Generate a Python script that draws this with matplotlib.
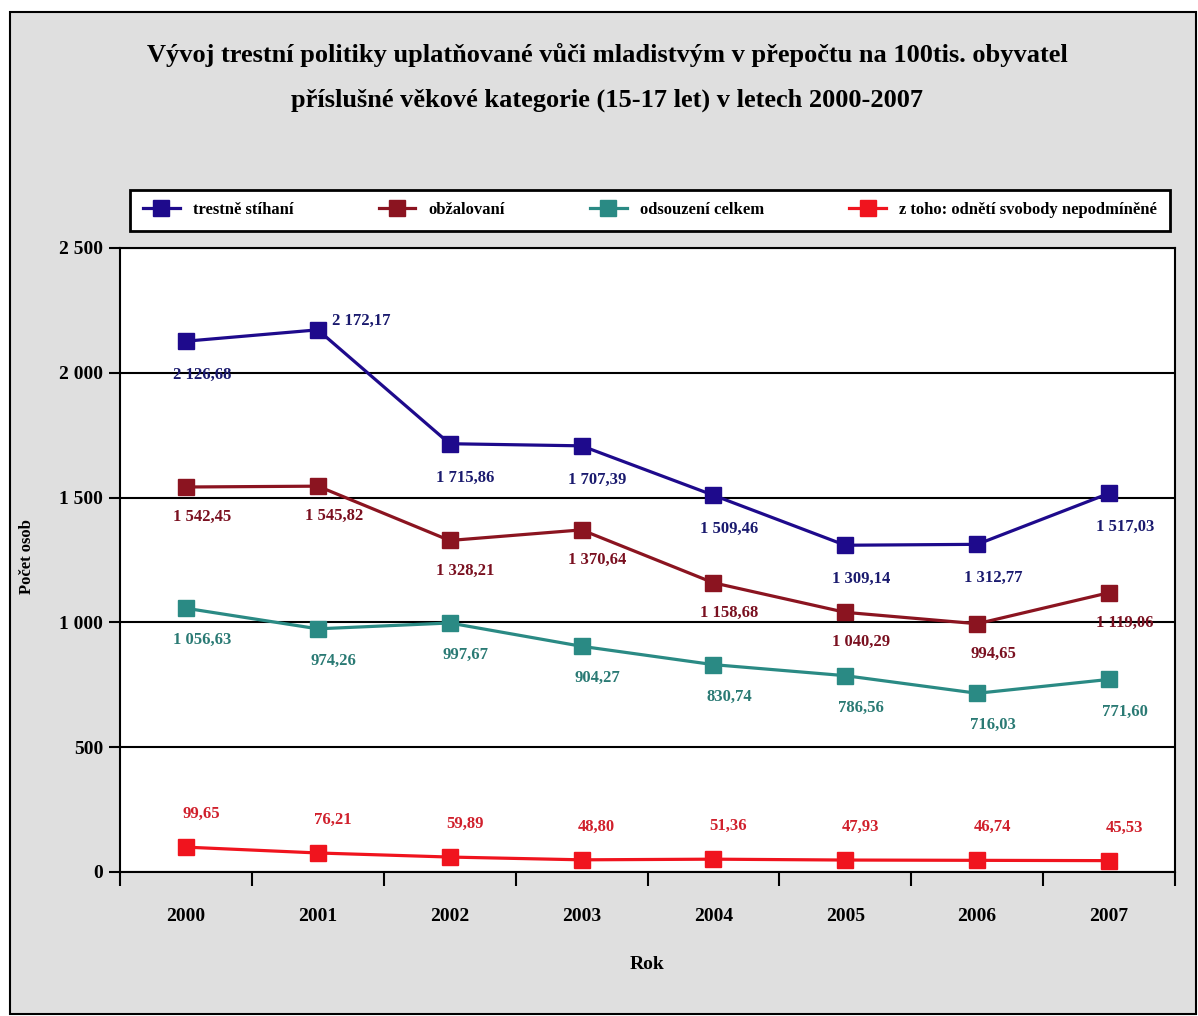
import matplotlib.pyplot as plt
from matplotlib.patches import Rectangle

plt.rcParams['font.family'] = ['Liberation Serif', 'DejaVu Serif']
plt.rcParams['font.weight'] = 'bold'

# data
years = ['2000', '2001', '2002', '2003', '2004', '2005', '2006', '2007']
trestne_stihani = [2126.68, 2172.17, 1715.86, 1707.39, 1509.46, 1309.14, 1312.77, 1517.03]
obzalovani = [1542.45, 1545.82, 1328.21, 1370.64, 1158.68, 1040.29, 994.65, 1119.06]
odsouzeni = [1056.63, 974.26, 997.67, 904.27, 830.74, 786.56, 716.03, 771.60]
nepodminene = [99.65, 76.21, 59.89, 48.80, 51.36, 47.93, 46.74, 45.53]
names = ['trestně stíhaní', 'obžalovaní', 'odsouzení celkem',
         'z toho: odnětí svobody nepodmíněné']
y_ticks = [0, 500, 1000, 1500, 2000, 2500]
y_tick_labels = ['0', '500', '1 000', '1 500', '2 000', '2 500']


def fmt(v):
    s = f'{v:,.2f}'
    return s.replace(',', ' ').replace('.', ',')


fig = plt.figure(figsize=(11.98, 10.16), dpi=100)
fig.patch.set_facecolor('white')
# gray panel with black border
fig.patches.append(Rectangle((10 / 1198, 0.002), 1186 / 1198, 1 - 12 / 1016 - 0.002,
                             transform=fig.transFigure, facecolor='#dfdfdf',
                             edgecolor='black', lw=1.5, zorder=-10))

ax = fig.add_axes([120 / 1198, 1 - 872 / 1016, 1055 / 1198, 624 / 1016])
ax.set_facecolor('white')

x = list(range(len(years)))
series = [
    (trestne_stihani, '#1e0a8c', '#1a1a6e', (16, -34)),
    (obzalovani, '#8b1420', '#7a1020', (16, -30)),
    (odsouzeni, '#2a8a84', '#2a7a74', (16, -32)),
    (nepodminene, '#f0141e', '#d0202c', (15, 33)),
]

handles = []
for (vals, col, lcol, off), name in zip(series, names):
    h, = ax.plot(x, vals, color=col, lw=2.3, marker='s', ms=11.5,
                 markeredgecolor=col, label=name, zorder=3)
    handles.append(h)
    for i, v in enumerate(vals):
        dx, dy = off
        if vals is trestne_stihani and i == 1:
            dx, dy = 43, 9
        ax.annotate(fmt(v), (i, v), xytext=(dx, dy), textcoords='offset pixels',
                    ha='center', va='center', fontsize=12, color=lcol,
                    fontweight='bold', zorder=4)

ax.set_xlim(-0.5, 7.5)
ax.set_ylim(0, 2500)
ax.set_yticks(y_ticks)
ax.set_yticklabels(y_tick_labels, fontsize=14, fontweight='bold')
ax.set_xticks(x)
ax.set_xticklabels(years, fontsize=14, fontweight='bold')
ax.set_xticks([i - 0.5 for i in range(len(years) + 1)], minor=True)
ax.tick_params(axis='x', which='major', length=0, pad=26)
ax.tick_params(axis='x', which='minor', length=10, width=1.5, direction='out')
ax.tick_params(axis='y', length=8, width=1.5, pad=4)
ax.yaxis.grid(True, color='black', lw=1.5)
ax.set_axisbelow(True)
for sp in ax.spines.values():
    sp.set_color('black')
    sp.set_linewidth(1.5)

ax.set_xlabel('Rok', fontsize=14, fontweight='bold', labelpad=22)
fig.text(27 / 1198, 1 - 557 / 1016, 'Počet osob', rotation=90, fontsize=12,
         fontweight='bold', ha='center', va='center')

fig.text(607 / 1198, 1 - 55 / 1016,
         'Vývoj trestní politiky uplatňované vůči mladistvým v přepočtu na 100tis. obyvatel',
         fontsize=19, fontweight='bold', ha='center', va='center')
fig.text(607 / 1198, 1 - 100 / 1016,
         'příslušné věkové kategorie (15-17 let) v letech 2000-2007',
         fontsize=19, fontweight='bold', ha='center', va='center')

leg = fig.legend(handles=handles, loc='center', ncol=4,
                 bbox_to_anchor=(650 / 1198, 1 - 210 / 1016),
                 frameon=True, fancybox=False, edgecolor='black',
                 handlelength=2.2, columnspacing=5.1, borderpad=0.75,
                 borderaxespad=0, prop={'weight': 'bold', 'size': 12})
leg.get_frame().set_linewidth(2)
leg.get_frame().set_facecolor('white')
leg.get_frame().set_alpha(1)

fig.savefig('out.png', dpi=100)
